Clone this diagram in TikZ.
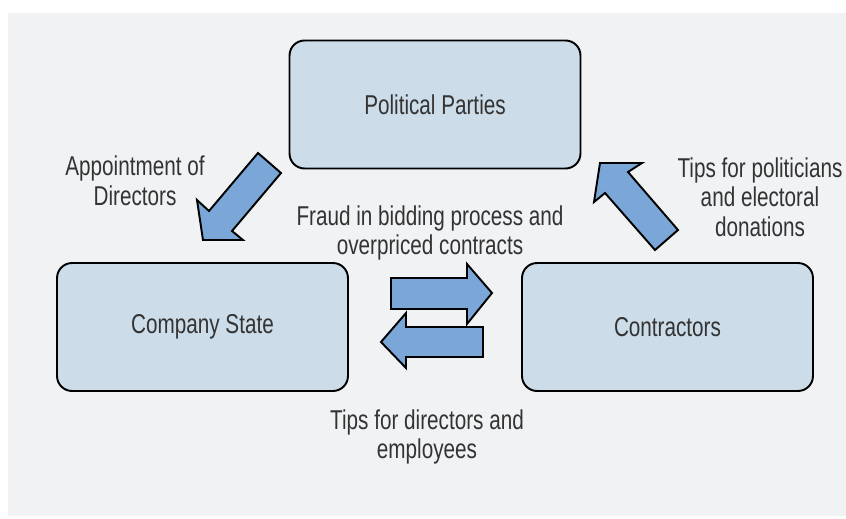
\documentclass[tikz,border=0pt]{standalone}
\usepackage{fontspec}
\setmainfont{Liberation Sans}[FakeStretch=0.76]

\begin{document}
\begin{tikzpicture}[x=0.02cm,y=-0.02cm]
		\definecolor{boxfill}{RGB}{204,220,233}
		\definecolor{arrowfill}{RGB}{122,167,216}
		\definecolor{backfill}{RGB}{241,242,244}
		\definecolor{textgray}{RGB}{51,51,51}
		\tikzset{
			actor/.style={draw=black,line width=1.1pt,fill=boxfill,rounded corners=0.3cm,
				minimum width=5.82cm,minimum height=2.56cm,text=textgray,
				font=\fontsize{15.5}{16.8}\selectfont},
			blockarrow/.style={draw=black,line width=1.1pt,fill=arrowfill,line join=miter},
			caption/.style={text=textgray,align=center,font=\fontsize{15.5}{16.8}\selectfont}
		}

		\useasboundingbox (0,0) rectangle (846,518);
		\fill[backfill] (8,13) rectangle (846,516);

		\node[actor] (parties) at (435,104.5) {Political Parties};
		\node[actor] (state) at (202.5,327) {Company State};
		\node[actor] (contractors) at (667.5,327) {Contractors};

		% appointment of directors
		\draw[blockarrow] (258,153) -- (281,173) -- (232,231) -- (243,240) -- (203,240)
			-- (197,200) -- (209,211) -- cycle;
		% tips for politicians
		\draw[blockarrow] (655,250) -- (678,230) -- (628,172) -- (642,163) -- (600,163)
			-- (594,202) -- (605,193) -- cycle;
		% fraud, to contractors
		\draw[blockarrow] (391,278) -- (467,278) -- (467,264) -- (492,293) -- (467,324)
			-- (467,309) -- (391,309) -- cycle;
		% tips, back to the company
		\draw[blockarrow] (483,327) -- (483,357) -- (406,357) -- (406,368) -- (381,342)
			-- (406,313) -- (406,327) -- cycle;

		\node[caption] (appoint) at (135,181) {Appointment of\\Directors};
		\node[caption] (fraud) at (430,233) {Fraud in bidding process and\\overpriced contracts};
		\node[caption] (donations) at (760,197) {Tips for politicians\\and electoral\\donations};
		\node[caption] (bribes) at (427,437) {Tips for directors and\\employees};

\end{tikzpicture}
\end{document}
